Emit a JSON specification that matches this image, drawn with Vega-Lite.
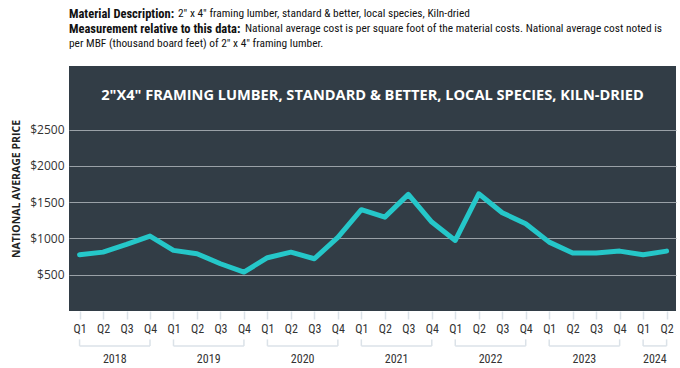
{
  "$schema": "https://vega.github.io/schema/vega-lite/v6.json",
  "width": 607,
  "height": 245,
  "padding": {"left": 11, "top": 8, "right": 4, "bottom": 2},
  "background": "white",
  "view": {"fill": "#323d46", "stroke": null},
  "config": {
    "font": "Open Sans",
    "axis": {"labelOverlap": false, "labelBound": false},
    "axisX": {
      "title": null, "domain": false, "grid": false, "ticks": true, "tickSize": 8, "tickWidth": 1.5,
      "tickColor": "#dbe2e8", "labelPadding": 4,
      "labelFont": "Roboto Condensed, Liberation Sans Narrow, DejaVu Sans Condensed, sans-serif",
      "labelFontSize": 12, "labelColor": "#333333", "labelFlush": false, "labelOverlap": false
    },
    "axisY": {
      "titleFont": "Open Sans", "titleFontWeight": "bold", "titleFontSize": 10.5, "titleColor": "#222222",
      "titlePadding": 8, "labelFont": "Open Sans", "labelFontSize": 12, "labelColor": "#333333",
      "labelPadding": 5, "domain": false, "ticks": false, "grid": true, "gridColor": "#9aa1a7", "gridWidth": 1.2
    }
  },
  "data": {
    "values": [
      {"year": "2018", "q": "Q1", "i": 0, "price": 775},
      {"year": "2018", "q": "Q2", "i": 1, "price": 811},
      {"year": "2018", "q": "Q3", "i": 2, "price": 917},
      {"year": "2018", "q": "Q4", "i": 3, "price": 1032},
      {"year": "2019", "q": "Q1", "i": 4, "price": 835},
      {"year": "2019", "q": "Q2", "i": 5, "price": 789},
      {"year": "2019", "q": "Q3", "i": 6, "price": 651},
      {"year": "2019", "q": "Q4", "i": 7, "price": 536},
      {"year": "2020", "q": "Q1", "i": 8, "price": 734},
      {"year": "2020", "q": "Q2", "i": 9, "price": 811},
      {"year": "2020", "q": "Q3", "i": 10, "price": 720},
      {"year": "2020", "q": "Q4", "i": 11, "price": 1015},
      {"year": "2021", "q": "Q1", "i": 12, "price": 1395},
      {"year": "2021", "q": "Q2", "i": 13, "price": 1293},
      {"year": "2021", "q": "Q3", "i": 14, "price": 1606},
      {"year": "2021", "q": "Q4", "i": 15, "price": 1225},
      {"year": "2022", "q": "Q1", "i": 16, "price": 972},
      {"year": "2022", "q": "Q2", "i": 17, "price": 1615},
      {"year": "2022", "q": "Q3", "i": 18, "price": 1354},
      {"year": "2022", "q": "Q4", "i": 19, "price": 1202},
      {"year": "2023", "q": "Q1", "i": 20, "price": 949},
      {"year": "2023", "q": "Q2", "i": 21, "price": 798},
      {"year": "2023", "q": "Q3", "i": 22, "price": 798},
      {"year": "2023", "q": "Q4", "i": 23, "price": 825},
      {"year": "2024", "q": "Q1", "i": 24, "price": 775},
      {"year": "2024", "q": "Q2", "i": 25, "price": 825}
    ]
  },
  "layer": [
    {
      "mark": {"type": "line", "color": "#25c7c9", "strokeWidth": 5, "strokeJoin": "round", "strokeCap": "round"},
      "encoding": {
        "x": {"field": "i", "type": "quantitative", "scale": {"domain": [-0.45, 25.4], "nice": false, "zero": false},
          "axis": {"values": [0,1,2,3,4,5,6,7,8,9,10,11,12,13,14,15,16,17,18,19,20,21,22,23,24,25], "labelExpr": "['Q1','Q2','Q3','Q4'][datum.value % 4]"}},
        "y": {"field": "price", "type": "quantitative", "scale": {"domain": [0, 3375], "nice": false, "zero": true},
          "axis": {"title": "NATIONAL AVERAGE PRICE", "values": [500, 1000, 1500, 2000, 2500], "labelExpr": "'$' + datum.value"}}
      }
    },
    {
      "data": {"values": [{"t": "2\"X4\" FRAMING LUMBER, STANDARD & BETTER, LOCAL SPECIES, KILN-DRIED"}]},
      "mark": {"type": "text", "color": "white", "font": "Open Sans", "fontWeight": "bold", "fontSize": 14.6, "align": "center", "baseline": "middle"},
      "encoding": {
        "x": {"datum": 12.475, "type": "quantitative",
          "axis": {"values": [0,1,2,3,4,5,6,7,8,9,10,11,12,13,14,15,16,17,18,19,20,21,22,23,24,25], "labelExpr": "['Q1','Q2','Q3','Q4'][datum.value % 4]"}},
        "y": {"datum": 2960, "type": "quantitative",
          "axis": {"title": "NATIONAL AVERAGE PRICE", "values": [500, 1000, 1500, 2000, 2500], "labelExpr": "'$' + datum.value"}},
        "text": {"field": "t"}
      }
    },
    {
      "data": {"values": [{"t": "Material Description:"}]},
      "mark": {"type": "text", "color": "#111111", "font": "Roboto Condensed, Liberation Sans Narrow, DejaVu Sans Condensed, sans-serif", "fontWeight": "bold", "fontSize": 12.5, "align": "left", "baseline": "middle"},
      "encoding": {
        "x": {"datum": -0.45, "type": "quantitative",
          "axis": {"values": [0,1,2,3,4,5,6,7,8,9,10,11,12,13,14,15,16,17,18,19,20,21,22,23,24,25], "labelExpr": "['Q1','Q2','Q3','Q4'][datum.value % 4]"}},
        "y": {"datum": 4085, "type": "quantitative",
          "axis": {"title": "NATIONAL AVERAGE PRICE", "values": [500, 1000, 1500, 2000, 2500], "labelExpr": "'$' + datum.value"}},
        "text": {"field": "t"}
      }
    },
    {
      "data": {"values": [{"t": "2\" x 4\" framing lumber, standard & better, local species, Kiln-dried"}]},
      "mark": {"type": "text", "color": "#111111", "font": "Roboto Condensed, Liberation Sans Narrow, DejaVu Sans Condensed, sans-serif", "fontSize": 11.4, "align": "left", "baseline": "middle", "dx": 109},
      "encoding": {
        "x": {"datum": -0.45, "type": "quantitative",
          "axis": {"values": [0,1,2,3,4,5,6,7,8,9,10,11,12,13,14,15,16,17,18,19,20,21,22,23,24,25], "labelExpr": "['Q1','Q2','Q3','Q4'][datum.value % 4]"}},
        "y": {"datum": 4085, "type": "quantitative",
          "axis": {"title": "NATIONAL AVERAGE PRICE", "values": [500, 1000, 1500, 2000, 2500], "labelExpr": "'$' + datum.value"}},
        "text": {"field": "t"}
      }
    },
    {
      "data": {"values": [{"t": "Measurement relative to this data:"}]},
      "mark": {"type": "text", "color": "#111111", "font": "Roboto Condensed, Liberation Sans Narrow, DejaVu Sans Condensed, sans-serif", "fontWeight": "bold", "fontSize": 12.5, "align": "left", "baseline": "middle"},
      "encoding": {
        "x": {"datum": -0.45, "type": "quantitative",
          "axis": {"values": [0,1,2,3,4,5,6,7,8,9,10,11,12,13,14,15,16,17,18,19,20,21,22,23,24,25], "labelExpr": "['Q1','Q2','Q3','Q4'][datum.value % 4]"}},
        "y": {"datum": 3879, "type": "quantitative",
          "axis": {"title": "NATIONAL AVERAGE PRICE", "values": [500, 1000, 1500, 2000, 2500], "labelExpr": "'$' + datum.value"}},
        "text": {"field": "t"}
      }
    },
    {
      "data": {"values": [{"t": "National average cost is per square foot of the material costs. National average cost noted is"}]},
      "mark": {"type": "text", "color": "#111111", "font": "Roboto Condensed, Liberation Sans Narrow, DejaVu Sans Condensed, sans-serif", "fontSize": 11.4, "align": "left", "baseline": "middle", "dx": 176},
      "encoding": {
        "x": {"datum": -0.45, "type": "quantitative",
          "axis": {"values": [0,1,2,3,4,5,6,7,8,9,10,11,12,13,14,15,16,17,18,19,20,21,22,23,24,25], "labelExpr": "['Q1','Q2','Q3','Q4'][datum.value % 4]"}},
        "y": {"datum": 3879, "type": "quantitative",
          "axis": {"title": "NATIONAL AVERAGE PRICE", "values": [500, 1000, 1500, 2000, 2500], "labelExpr": "'$' + datum.value"}},
        "text": {"field": "t"}
      }
    },
    {
      "data": {"values": [{"t": "per MBF (thousand board feet) of 2\" x 4\" framing lumber."}]},
      "mark": {"type": "text", "color": "#111111", "font": "Roboto Condensed, Liberation Sans Narrow, DejaVu Sans Condensed, sans-serif", "fontSize": 11.4, "align": "left", "baseline": "middle"},
      "encoding": {
        "x": {"datum": -0.45, "type": "quantitative",
          "axis": {"values": [0,1,2,3,4,5,6,7,8,9,10,11,12,13,14,15,16,17,18,19,20,21,22,23,24,25], "labelExpr": "['Q1','Q2','Q3','Q4'][datum.value % 4]"}},
        "y": {"datum": 3672, "type": "quantitative",
          "axis": {"title": "NATIONAL AVERAGE PRICE", "values": [500, 1000, 1500, 2000, 2500], "labelExpr": "'$' + datum.value"}},
        "text": {"field": "t"}
      }
    },
    {
      "mark": {"type": "rule", "color": "#dbe2e8", "strokeWidth": 1.5},
      "encoding": {
        "x": {"aggregate": "min", "field": "i", "type": "quantitative",
          "axis": {"values": [0,1,2,3,4,5,6,7,8,9,10,11,12,13,14,15,16,17,18,19,20,21,22,23,24,25], "labelExpr": "['Q1','Q2','Q3','Q4'][datum.value % 4]"}},
        "x2": {"aggregate": "max", "field": "i"},
        "y": {"datum": -481, "type": "quantitative",
          "axis": {"title": "NATIONAL AVERAGE PRICE", "values": [500, 1000, 1500, 2000, 2500], "labelExpr": "'$' + datum.value"}},
        "detail": {"field": "year"}
      }
    },
    {
      "mark": {"type": "rule", "color": "#dbe2e8", "strokeWidth": 1.5},
      "encoding": {
        "x": {"aggregate": "min", "field": "i", "type": "quantitative",
          "axis": {"values": [0,1,2,3,4,5,6,7,8,9,10,11,12,13,14,15,16,17,18,19,20,21,22,23,24,25], "labelExpr": "['Q1','Q2','Q3','Q4'][datum.value % 4]"}},
        "y": {"datum": -391, "type": "quantitative",
          "axis": {"title": "NATIONAL AVERAGE PRICE", "values": [500, 1000, 1500, 2000, 2500], "labelExpr": "'$' + datum.value"}},
        "y2": {"datum": -481},
        "detail": {"field": "year"}
      }
    },
    {
      "mark": {"type": "rule", "color": "#dbe2e8", "strokeWidth": 1.5},
      "encoding": {
        "x": {"aggregate": "max", "field": "i", "type": "quantitative",
          "axis": {"values": [0,1,2,3,4,5,6,7,8,9,10,11,12,13,14,15,16,17,18,19,20,21,22,23,24,25], "labelExpr": "['Q1','Q2','Q3','Q4'][datum.value % 4]"}},
        "y": {"datum": -391, "type": "quantitative",
          "axis": {"title": "NATIONAL AVERAGE PRICE", "values": [500, 1000, 1500, 2000, 2500], "labelExpr": "'$' + datum.value"}},
        "y2": {"datum": -481},
        "detail": {"field": "year"}
      }
    },
    {
      "mark": {"type": "text", "color": "#333333", "font": "Roboto Condensed, Liberation Sans Narrow, DejaVu Sans Condensed, sans-serif", "fontSize": 12, "align": "center", "baseline": "middle"},
      "encoding": {
        "x": {"aggregate": "mean", "field": "i", "type": "quantitative",
          "axis": {"values": [0,1,2,3,4,5,6,7,8,9,10,11,12,13,14,15,16,17,18,19,20,21,22,23,24,25], "labelExpr": "['Q1','Q2','Q3','Q4'][datum.value % 4]"}},
        "y": {"datum": -667, "type": "quantitative",
          "axis": {"title": "NATIONAL AVERAGE PRICE", "values": [500, 1000, 1500, 2000, 2500], "labelExpr": "'$' + datum.value"}},
        "text": {"field": "year"}
      }
    }
  ]
}
